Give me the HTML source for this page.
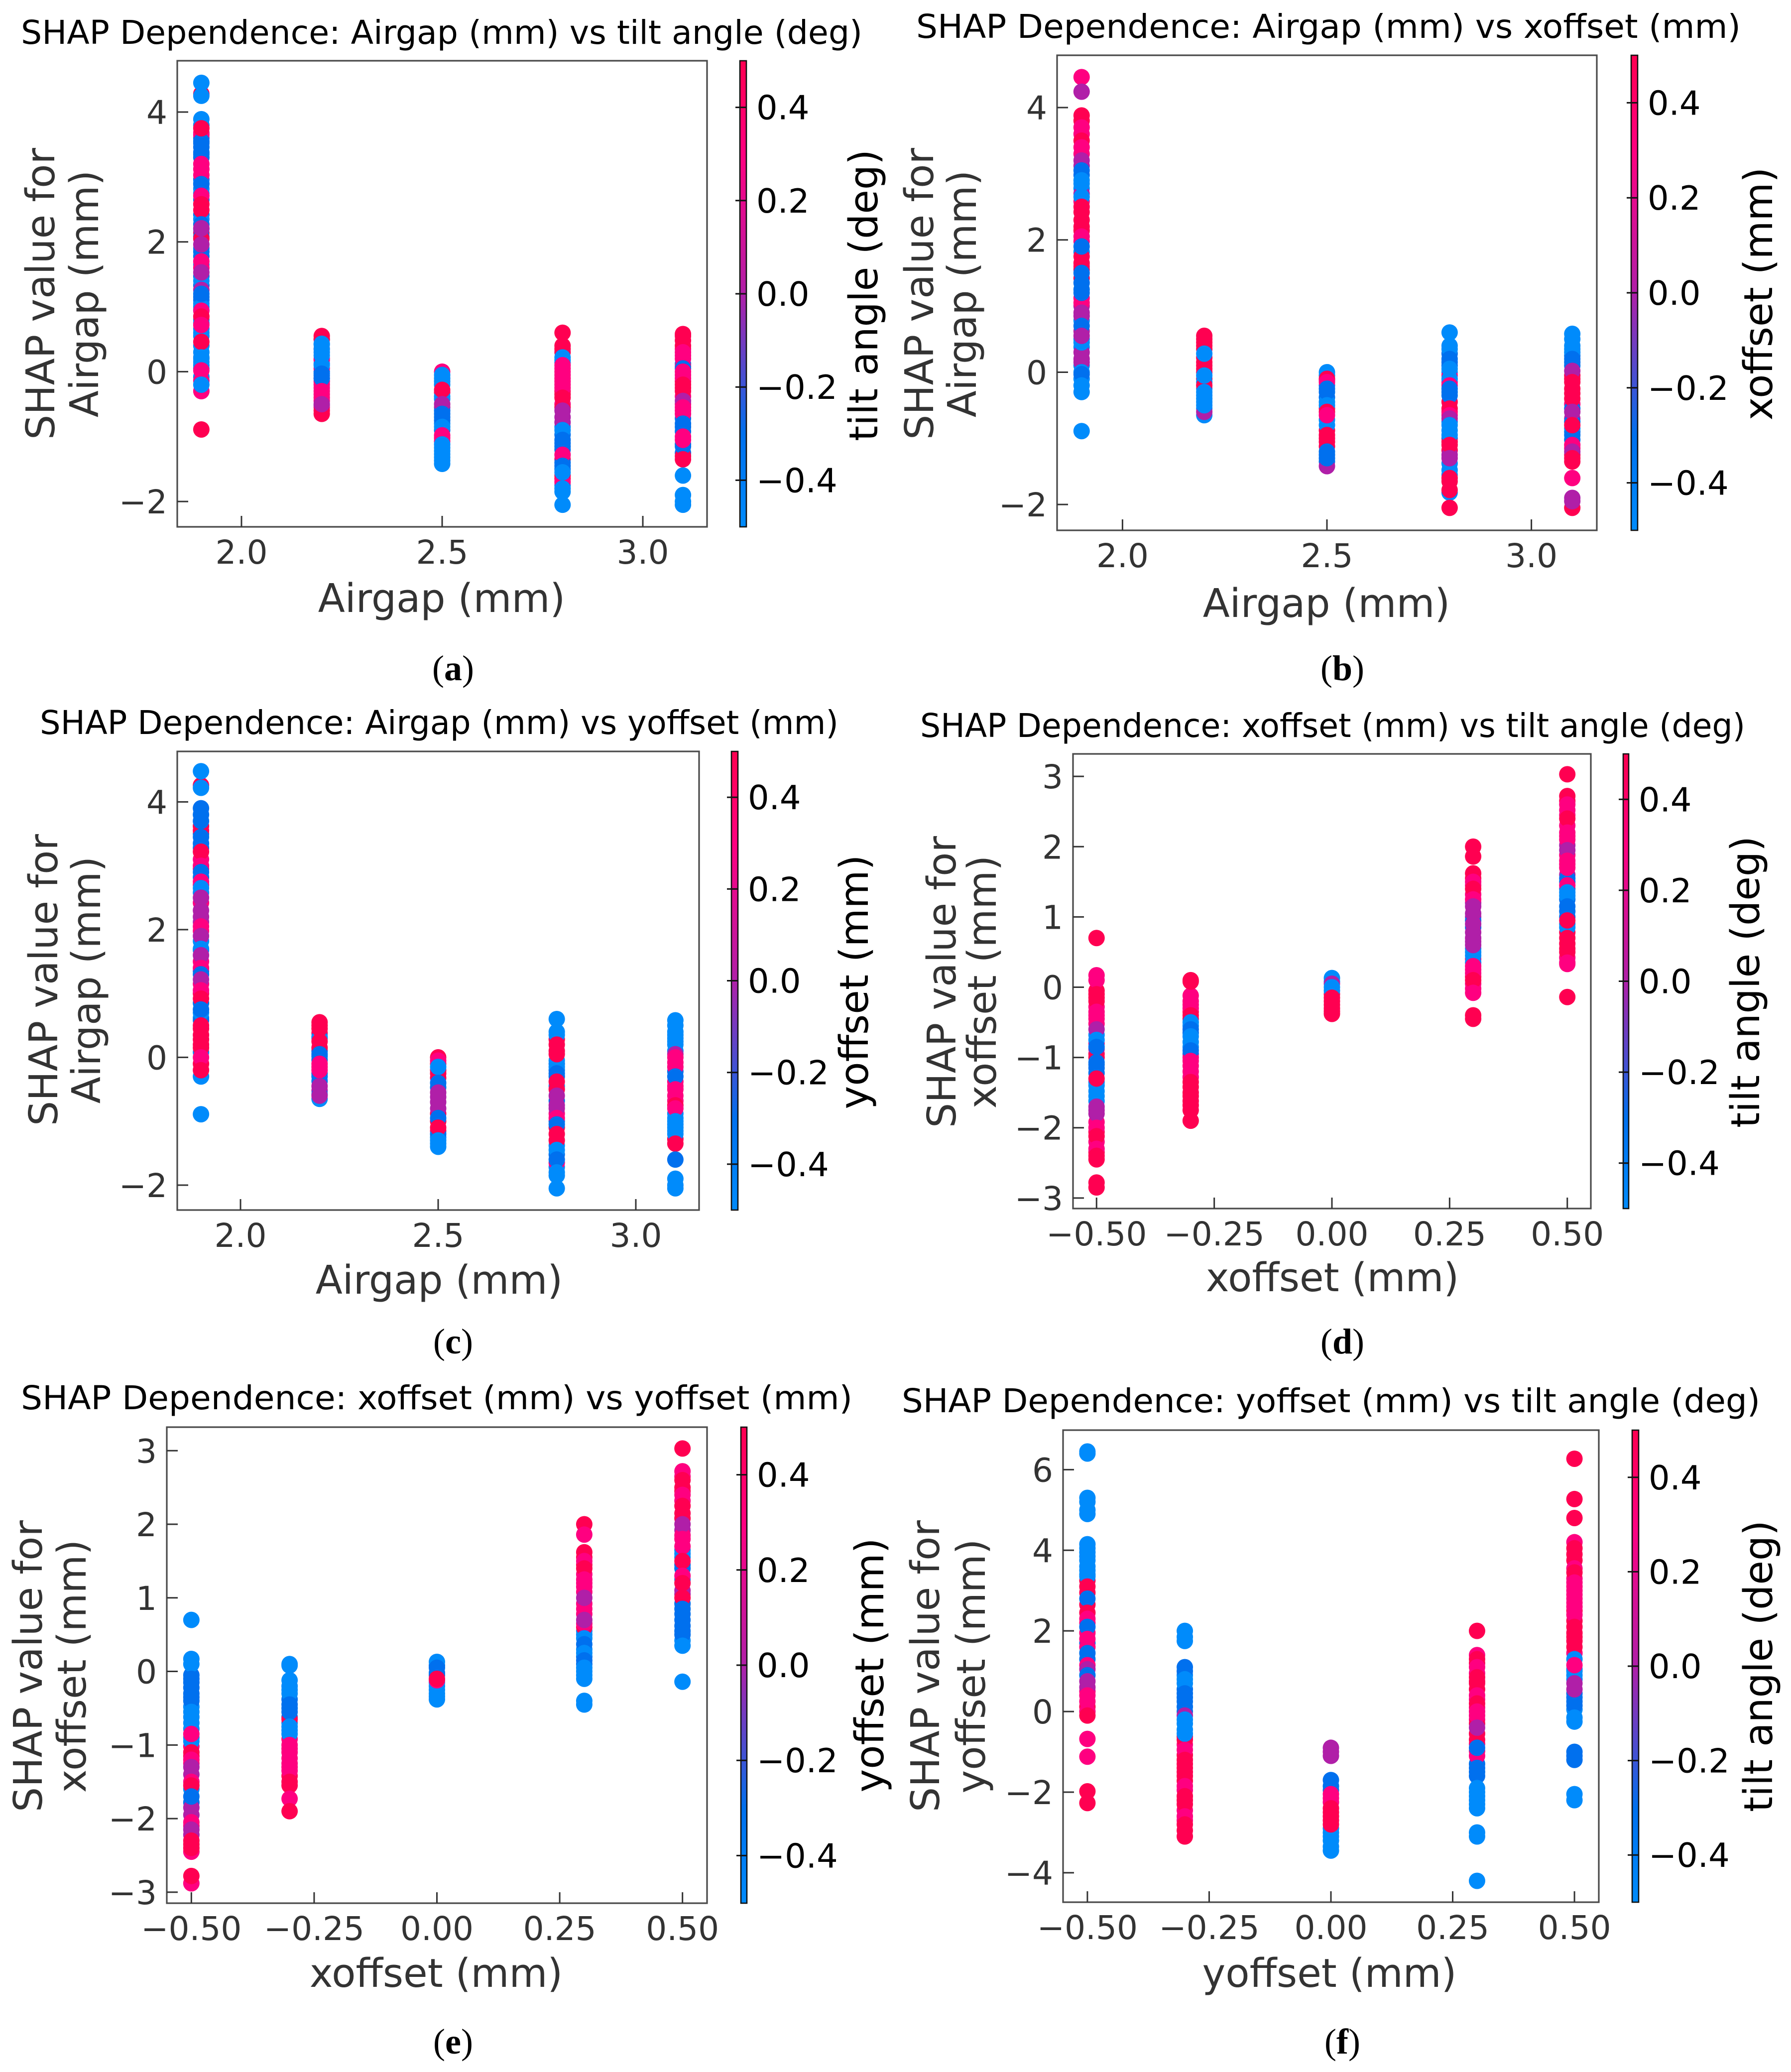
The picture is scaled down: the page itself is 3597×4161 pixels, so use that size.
<!DOCTYPE html>
<html lang="en">
<head>
<meta charset="utf-8">
<title>SHAP dependence plots</title>
<style>
html,body{margin:0;padding:0;background:#fff;}
svg{display:block;font-family:"DejaVu Sans",sans-serif;}
.title{font-size:66px;fill:#000;}
.axis-label{font-size:79px;fill:#333;text-anchor:middle;}
.cb-label{font-size:79px;fill:#000;text-anchor:middle;}
.caption{font-family:"Liberation Serif",serif;font-size:72px;fill:#000;text-anchor:middle;}
.caption tspan{font-weight:bold;}
.tick-text{font-size:66px;fill:#333;}
.cb-text{font-size:67px;fill:#000;}
</style>
</head>
<body>
<svg id="figure" xmlns="http://www.w3.org/2000/svg" width="3597" height="4161" viewBox="0 0 3597 4161">
<rect width="3597" height="4161" fill="#fff"/>

<g id="panel-a">
<text class="title" x="42" y="88" textLength="1690" lengthAdjust="spacingAndGlyphs">SHAP Dependence: Airgap (mm) vs tilt angle (deg)</text>
<text class="axis-label" transform="translate(109 590) rotate(-90)">SHAP value for</text>
<text class="axis-label" transform="translate(197 590) rotate(-90)">Airgap (mm)</text>
<text class="axis-label" x="887" y="1229">Airgap (mm)</text>
<text class="cb-label" transform="translate(1762 593) rotate(-90)">tilt angle (deg)</text>
<text class="caption" x="910" y="1366">(<tspan>a</tspan>)</text>
</g>

<g id="panel-b">
<text class="title" x="1840" y="76" textLength="1656" lengthAdjust="spacingAndGlyphs">SHAP Dependence: Airgap (mm) vs xoffset (mm)</text>
<text class="axis-label" transform="translate(1874 590) rotate(-90)">SHAP value for</text>
<text class="axis-label" transform="translate(1960 590) rotate(-90)">Airgap (mm)</text>
<text class="axis-label" x="2664" y="1239">Airgap (mm)</text>
<text class="cb-label" transform="translate(3559 590) rotate(-90)">xoffset (mm)</text>
<text class="caption" x="2696" y="1366">(<tspan>b</tspan>)</text>
</g>

<g id="panel-c">
<text class="title" x="80" y="1474" textLength="1604" lengthAdjust="spacingAndGlyphs">SHAP Dependence: Airgap (mm) vs yoffset (mm)</text>
<text class="axis-label" transform="translate(115 1968) rotate(-90)">SHAP value for</text>
<text class="axis-label" transform="translate(201 1968) rotate(-90)">Airgap (mm)</text>
<text class="axis-label" x="882" y="2598">Airgap (mm)</text>
<text class="cb-label" transform="translate(1743 1972) rotate(-90)">yoffset (mm)</text>
<text class="caption" x="910" y="2718">(<tspan>c</tspan>)</text>
</g>

<g id="panel-d">
<text class="title" x="1848" y="1480" textLength="1657" lengthAdjust="spacingAndGlyphs">SHAP Dependence: xoffset (mm) vs tilt angle (deg)</text>
<text class="axis-label" transform="translate(1919 1972) rotate(-90)">SHAP value for</text>
<text class="axis-label" transform="translate(2000 1972) rotate(-90)">xoffset (mm)</text>
<text class="axis-label" x="2676" y="2593">xoffset (mm)</text>
<text class="cb-label" transform="translate(3533 1972) rotate(-90)">tilt angle (deg)</text>
<text class="caption" x="2696" y="2718">(<tspan>d</tspan>)</text>
</g>

<g id="panel-e">
<text class="title" x="42" y="2830" textLength="1670" lengthAdjust="spacingAndGlyphs">SHAP Dependence: xoffset (mm) vs yoffset (mm)</text>
<text class="axis-label" transform="translate(84 3346) rotate(-90)">SHAP value for</text>
<text class="axis-label" transform="translate(172 3346) rotate(-90)">xoffset (mm)</text>
<text class="axis-label" x="876" y="3990">xoffset (mm)</text>
<text class="cb-label" transform="translate(1774 3344) rotate(-90)">yoffset (mm)</text>
<text class="caption" x="910" y="4124">(<tspan>e</tspan>)</text>
</g>

<g id="panel-f">
<text class="title" x="1811" y="2836" textLength="1724" lengthAdjust="spacingAndGlyphs">SHAP Dependence: yoffset (mm) vs tilt angle (deg)</text>
<text class="axis-label" transform="translate(1886 3346) rotate(-90)">SHAP value for</text>
<text class="axis-label" transform="translate(1978 3346) rotate(-90)">yoffset (mm)</text>
<text class="axis-label" x="2670" y="3990">yoffset (mm)</text>
<text class="cb-label" transform="translate(3559 3346) rotate(-90)">tilt angle (deg)</text>
<text class="caption" x="2696" y="4124">(<tspan>f</tspan>)</text>
</g>
</svg>

<script>
// Feature levels used as the colour value of each point
const B = -0.5, C = -0.3, P = 0, M = 0.3, R = 0.5;

// Shared categories and tick labels
const airgapCategories = [1.9, 2.2, 2.5, 2.8, 3.1];
const offsetCategories = [-0.5, -0.3, 0, 0.3, 0.5];
const airgapXTicks = [2.0, 2.5, 3.0];
const airgapXTickLabels = ['2.0', '2.5', '3.0'];
const offsetXTicks = [-0.5, -0.25, 0, 0.25, 0.5];
const offsetXTickLabels = ['\u22120.50', '\u22120.25', '0.00', '0.25', '0.50'];
const airgapYTicks = [4, 2, 0, -2];
const airgapYTickLabels = ['4', '2', '0', '\u22122'];
const xoffsetYTicks = [3, 2, 1, 0, -1, -2, -3];
const xoffsetYTickLabels = ['3', '2', '1', '0', '\u22121', '\u22122', '\u22123'];
const yoffsetYTicks = [6, 4, 2, 0, -2, -4];
const yoffsetYTickLabels = ['6', '4', '2', '0', '\u22122', '\u22124'];
const colorbarTicks = [0.4, 0.2, 0, -0.2, -0.4];
const colorbarTickLabels = ['0.4', '0.2', '0.0', '\u22120.2', '\u22120.4'];

// Axis domains
const airgapXDomain = [1.84, 3.16];
const airgapYDomain = [-2.39, 4.79];
const offsetXDomain = [-0.55, 0.55];
const xoffsetYDomain = [-3.15, 3.32];
const yoffsetYDomain = [-4.73, 6.98];
const colorDomain = [-0.5, 0.5];

// Panel a: [SHAP value, tilt angle]
const panelAColumn1 = [[3.8,B],[3.68,M],[3.6,C],[3.52,C],[3.38,C],[3.3,C],[3.12,M],[2.96,C],[2.82,B],[2.65,C],[2.42,C],[2.35,B],[2.14,R],[2.08,C],[1.9,B],[1.78,C],[1.65,B],[1.47,C],[1.33,C],[1.1,C],[1.05,B],[0.95,B],[0.8,B],[0.66,B],[0.55,B],[0.4,B],[0.3,B],[0.15,B],[0.05,C],[-0.08,B],[-0.14,M],[4.28,R],[3.65,M],[3.55,C],[3.35,C],[2.9,B],[2.75,B],[2.2,C],[2.05,R],[1.85,C],[1.6,M],[1.4,B],[1.15,C],[1.0,B],[0.75,B],[0.6,B],[0.2,B],[0.1,B],[-0.3,M],[-0.89,R],[4.45,B],[4.25,B],[3.89,B],[3.75,R],[3.46,C],[3.2,M],[3.03,M],[2.89,C],[2.71,M],[2.58,R],[2.49,R],[2.27,C],[2.21,P],[1.96,P],[1.7,M],[1.53,P],[1.26,P],[1.2,C],[0.94,M],[0.85,R],[0.72,M],[0.46,R],[0.22,B],[0.02,M],[-0.2,B]];
const panelAColumn2 = [[0.5,R],[0.42,B],[0.3,B],[0.18,M],[0.12,C],[0,C],[-0.06,C],[-0.15,M],[-0.25,M],[-0.35,M],[-0.45,M],[-0.52,P],[-0.55,M],[0.55,R],[0.5,R],[0.35,M],[0.2,M],[0.05,M],[-0.1,M],[-0.2,M],[-0.6,R],[-0.65,R],[0.43,B],[0.35,B],[0.25,B],[0.1,B],[-0.03,C],[-0.1,C],[-0.3,M],[-0.4,M],[-0.5,P]];
const panelAColumn3 = [[-0.1,B],[-0.2,B],[-0.32,R],[-0.42,B],[-0.55,P],[-0.6,C],[-0.7,C],[-0.8,B],[-0.9,C],[-1.07,M],[-1.17,B],[-1.27,B],[-1.37,B],[0,M],[-0.05,B],[-0.15,B],[-0.38,B],[-0.28,R],[-0.5,P],[-0.65,C],[-0.75,C],[-0.85,B],[-0.98,M],[-1.02,M],[-1.12,B],[-1.22,B],[-1.32,B],[-1.42,B]];
const panelAColumn4 = [[0.3,R],[0.14,B],[0.05,M],[-0.05,M],[-0.15,M],[-0.2,M],[-0.3,R],[-0.35,R],[-0.5,M],[-0.55,R],[-0.7,P],[-0.85,B],[-0.97,C],[-1.1,C],[-1.2,C],[-1.35,R],[-1.4,C],[-1.5,C],[-1.65,R],[-1.75,B],[0.6,R],[0.4,R],[0.35,R],[-1.6,R],[-1.7,M],[0.22,B],[0.18,B],[0.1,M],[0,M],[-0.1,M],[-0.25,M],[-0.4,R],[-0.6,P],[-0.78,P],[-0.9,B],[-1.05,C],[-1.15,C],[-1.28,M],[-1.45,C],[-1.55,B],[-1.8,B],[-1.85,B],[-2.05,B]];
const panelAColumn5 = [[0.48,R],[0.35,M],[0.25,M],[0.12,C],[0.08,M],[-0.05,M],[-0.15,R],[-0.25,R],[-0.38,M],[-0.5,M],[-0.6,M],[-0.72,C],[-0.92,C],[-1.12,C],[-1.25,C],[-1.3,R],[0.58,R],[0.55,R],[0.4,R],[0.3,M],[0.2,M],[0.05,C],[0,M],[-0.1,M],[-0.2,R],[-0.3,R],[-0.45,P],[-0.55,M],[-0.65,M],[-0.8,C],[-0.85,C],[-1.15,C],[-1,M],[-1.05,M],[-1.35,R],[-1.6,B],[-1.9,B],[-2,B],[-2.05,B]];

// Panel b: [SHAP value, xoffset]
const panelBColumn1 = [[3.8,R],[3.6,M],[3.3,M],[3.12,P],[2.98,C],[2.78,B],[2.58,M],[2.42,R],[2.14,R],[1.98,M],[1.82,B],[1.75,R],[1.6,M],[1.42,R],[1.35,C],[1.12,M],[1,P],[0.78,B],[0.62,P],[0.5,B],[0.38,B],[0.3,P],[0.1,B],[-0.1,B],[4.46,M],[4.24,P],[3.88,R],[3.7,M],[3.5,R],[3.4,M],[3.2,P],[2.7,P],[2.65,B],[3.05,C],[2.9,B],[2.85,B],[2.5,R],[2.3,R],[2.2,R],[2.05,M],[1.9,C],[1.65,R],[1.55,R],[1.5,C],[1.05,M],[1.25,C],[1.2,C],[0.9,P],[0.85,P],[0.45,B],[0.7,C],[0.55,P],[0.2,P],[0.15,P],[0,B],[-0.03,C],[-0.2,B],[-0.3,B],[-0.89,B]];
const panelBColumn2 = [[0.4,R],[0.35,R],[0.22,R],[0.1,R],[0,R],[-0.1,R],[-0.15,B],[-0.25,B],[-0.35,B],[-0.45,B],[-0.55,B],[0.55,R],[0.5,R],[0.45,R],[0.15,R],[0.05,R],[-0.2,R],[0.28,B],[-0.05,B],[-0.65,B],[-0.6,P],[-0.3,B],[-0.4,B],[-0.5,B]];
const panelBColumn3 = [[-0.12,M],[-0.2,C],[-0.38,C],[-0.45,B],[-0.55,R],[-0.72,B],[-0.88,R],[-1,R],[-1.12,R],[-1.25,C],[-1.35,C],[0,B],[-0.05,B],[-0.1,R],[-0.15,M],[-0.25,C],[-0.3,C],[-0.5,B],[-0.8,B],[-0.6,R],[-0.65,M],[-0.95,R],[-1.05,R],[-1.42,P],[-1.2,C],[-1.3,C]];
const panelBColumn4 = [[0.28,C],[0.1,C],[0,B],[-0.05,M],[-0.15,M],[-0.3,C],[-0.45,R],[-0.6,M],[-0.75,B],[-0.88,B],[-1,C],[-1.05,R],[-1.18,R],[-1.25,P],[-1.38,B],[-1.48,B],[0.6,B],[0.4,B],[0.35,B],[0.2,C],[0.15,C],[0.05,B],[-0.1,B],[-0.2,M],[-0.25,C],[-0.35,C],[-0.55,R],[-0.65,M],[-0.7,P],[-0.8,B],[-0.95,B],[-1.1,R],[-1.3,P],[-1.55,B],[-1.82,B],[-1.6,R],[-1.65,R],[-1.78,R],[-2.05,R]];
const panelBColumn5 = [[0.5,B],[0.35,B],[0.25,C],[0.15,C],[-0.05,R],[-0.1,R],[-0.32,R],[-0.48,M],[-0.7,P],[-0.75,C],[-0.9,C],[-1.02,C],[-1.15,M],[-1.25,R],[0.58,B],[0.4,B],[0.3,B],[0.2,C],[0.1,C],[0.02,P],[-0.55,C],[-0.15,R],[-0.25,R],[-0.4,R],[-0.6,P],[-0.85,B],[-0.95,C],[-0.8,R],[-1.1,M],[-1.2,P],[-1.3,R],[-1.35,R],[-1.6,M],[-2.05,R],[-1.9,P],[-1.95,P]];

// Panel c: [SHAP value, yoffset]
const panelCColumn1 = [[3.8,C],[3.62,R],[3.5,C],[3.28,C],[3.1,M],[2.95,M],[2.82,C],[2.7,M],[2.58,B],[2.42,M],[2.12,P],[1.98,M],[1.82,B],[1.68,C],[1.5,M],[1.35,C],[1.15,M],[1,R],[0.85,C],[0.62,B],[0.58,C],[0.35,R],[0.28,R],[0.08,B],[-0.1,R],[4.26,R],[3.55,R],[4.48,B],[4.22,B],[3.9,C],[3.7,C],[3.45,C],[3.35,C],[3.22,R],[3,M],[2.9,C],[2.75,M],[2.65,B],[2.5,P],[2.3,P],[2.2,P],[2.05,M],[1.9,P],[1.7,B],[1.6,P],[1.4,M],[1.3,C],[1.22,P],[1.05,M],[0.92,R],[0.7,B],[0.75,C],[0.45,R],[0.5,R],[0.2,R],[0.15,R],[-0.3,B],[0,M],[-0.2,R],[-0.89,B]];
const panelCColumn2 = [[0.38,R],[0.32,C],[0.1,C],[0.02,C],[-0.04,C],[-0.15,M],[-0.25,C],[-0.37,C],[-0.52,P],[-0.58,C],[0.3,B],[-0.65,B],[0.55,R],[0.5,R],[0.45,R],[0.25,R],[0.15,R],[0.05,C],[-0.1,M],[-0.3,C],[-0.2,M],[-0.45,P],[-0.6,P]];
const panelCColumn3 = [[-0.1,R],[-0.2,R],[-0.32,R],[-0.47,C],[-0.62,P],[-0.88,R],[-1,R],[-1.15,R],[-1.25,B],[-1.35,B],[0,R],[-0.05,M],[-0.25,R],[-0.15,B],[-0.4,C],[-0.55,P],[-0.7,P],[-0.8,P],[-0.95,C],[-1.2,C],[-1.1,R],[-1.3,B],[-1.4,B]];
const panelCColumn4 = [[0.28,R],[-0.1,C],[-0.2,C],[-0.3,C],[-0.45,B],[-0.5,R],[-0.68,C],[-0.88,M],[-1,C],[-1.1,R],[-1.38,B],[-1.52,C],[-1.72,B],[0.6,B],[0.4,B],[0.35,B],[-1.65,M],[-0.05,B],[-0.15,B],[0.2,R],[0.1,R],[0.05,R],[-0.25,C],[-0.38,R],[-0.6,P],[-0.75,P],[-0.8,P],[-0.95,M],[-1.05,C],[-1.2,R],[-1.3,R],[-1.45,B],[-1.6,C],[-1.8,B],[-1.85,B],[-2.05,B]];
const panelCColumn5 = [[0.5,B],[0.35,B],[0.25,B],[0.1,B],[-0.08,M],[-0.22,C],[-0.38,M],[-0.45,M],[-0.68,M],[-0.88,B],[-0.95,B],[-1.05,B],[-1.15,B],[-1.28,R],[0.58,B],[0.4,B],[0.3,B],[0.2,B],[-0.15,M],[0.05,P],[0,M],[-0.3,C],[-0.5,M],[-0.6,M],[-0.75,R],[-0.8,M],[-1,B],[-1.1,B],[-1.2,B],[-1.35,R],[-1.6,C],[-1.9,B],[-2,B],[-2.05,B]];

// Panel d: [SHAP value, tilt angle]
const panelDColumn1 = [[-0.05,R],[-0.15,R],[-0.28,M],[-0.4,M],[-0.52,M],[-0.68,B],[-0.8,M],[-0.95,R],[-1.1,C],[-1.22,C],[-1.35,B],[-1.48,B],[-1.62,B],[-1.75,P],[-1.92,M],[-2.06,R],[-2.2,M],[-2.35,R],[0.7,R],[0.17,M],[0.1,M],[-0.1,R],[-0.2,R],[-0.35,M],[-0.45,M],[-0.6,P],[-0.88,P],[-1,R],[-0.75,B],[-0.85,C],[-1.07,C],[-1.15,C],[-1.4,B],[-1.3,R],[-1.55,B],[-1.7,P],[-1.8,P],[-2,M],[-2.12,R],[-2.3,M],[-2.4,R],[-2.45,R],[-2.78,R],[-2.85,R]];
const panelDColumn2 = [[-0.12,M],[-0.25,M],[-0.35,R],[-0.45,R],[-0.55,B],[-0.65,C],[-0.78,B],[-0.95,C],[-1,M],[-1.12,M],[-1.28,M],[-1.42,R],[-1.62,R],[-1.68,R],[0.1,R],[0.08,R],[-0.2,M],[-0.3,M],[-0.4,R],[-0.5,B],[-0.6,C],[-0.7,B],[-0.85,B],[-0.9,C],[-1.05,M],[-1.2,M],[-1.35,R],[-1.5,R],[-1.55,R],[-1.75,R],[-1.9,R]];
const panelDColumn3 = [[0.08,B],[-0.1,R],[-0.34,R],[0.13,B],[0.05,P],[0,B],[-0.05,B],[-0.15,R],[-0.2,R],[-0.25,R],[-0.3,R],[-0.38,R]];
const panelDColumn4 = [[1.62,R],[1.45,M],[1.32,M],[1.2,P],[1,P],[0.85,C],[0.78,P],[0.65,P],[0.55,B],[0.4,M],[0.35,B],[0.25,M],[0.15,R],[0.05,M],[-0.02,M],[2,R],[1.86,R],[1.55,R],[1.5,M],[1.4,R],[1.25,M],[0.95,C],[1.15,P],[1.05,P],[0.45,B],[0.5,B],[0.9,P],[0.7,P],[0.6,P],[0.3,M],[0.2,M],[0.1,R],[-0.08,M],[-0.4,R],[-0.45,R]];
const panelDColumn5 = [[2.65,R],[2.52,M],[2.3,M],[2.15,M],[2.02,P],[1.88,M],[1.75,M],[1.5,C],[1.4,C],[1.25,C],[1.08,C],[0.9,B],[0.78,R],[0.62,R],[0.42,M],[3.03,R],[2.72,R],[2.6,M],[2.45,M],[2.4,R],[2.2,M],[2.1,M],[1.95,P],[1.6,P],[1.55,C],[1.8,M],[1.7,M],[1.45,M],[0.85,B],[1.35,B],[1.3,B],[1.15,C],[1,C],[0.95,R],[0.7,R],[0.55,R],[0.5,R],[0.35,M],[0.33,M],[-0.14,R]];

// Panel e: [SHAP value, yoffset]
const panelEColumn1 = [[-0.05,C],[-0.22,C],[-0.35,C],[-0.48,B],[-0.62,B],[-0.78,B],[-0.9,B],[-1.02,M],[-1.15,R],[-1.25,M],[-1.4,P],[-1.6,B],[-1.78,C],[-1.95,P],[-2.1,M],[-2.22,P],[-2.35,R],[0.7,B],[0.17,B],[0.1,B],[-0.1,C],[-0.15,C],[-0.3,C],[-0.4,C],[-0.55,B],[-0.7,B],[-0.95,B],[-0.85,M],[-1.1,R],[-1.2,M],[-1.3,P],[-1.5,M],[-1.55,R],[-1.85,P],[-1.7,C],[-2.05,M],[-2.15,P],[-2.45,M],[-2.3,R],[-2.4,R],[-2.88,M],[-2.78,R]];
const panelEColumn2 = [[-0.12,B],[-0.25,B],[-0.38,C],[-0.5,C],[-0.62,C],[-0.7,B],[-0.8,B],[-0.92,M],[-1.05,M],[-1.18,M],[-1.3,M],[-1.42,R],[0.1,B],[0.08,B],[-0.2,B],[-0.3,B],[-0.65,R],[-0.45,C],[-0.55,C],[-0.75,B],[-0.85,B],[-1,M],[-1.1,M],[-1.25,M],[-1.35,M],[-1.5,R],[-1.55,R],[-1.73,M],[-1.9,R]];
const panelEColumn3 = [[0.08,C],[-0.02,C],[-0.15,B],[-0.25,B],[-0.34,B],[0.13,B],[0.05,C],[-0.05,C],[-0.2,B],[-0.3,B],[-0.38,B],[-0.12,M],[-0.1,R]];
const panelEColumn4 = [[1.62,R],[1.45,R],[1.32,M],[1.2,M],[1.08,M],[0.92,M],[0.78,M],[0.55,B],[0.5,B],[0.3,B],[0.2,C],[0.1,C],[0,B],[-0.05,B],[2,R],[1.86,M],[1.55,R],[1.5,M],[1.4,R],[1.25,M],[1.15,M],[0.85,M],[1,P],[0.6,R],[0.65,M],[0.7,P],[0.45,B],[0.37,C],[0.25,B],[0.15,C],[0.05,B],[-0.1,B],[-0.4,B],[-0.45,B]];
const panelEColumn5 = [[2.65,M],[2.45,R],[2.32,M],[2.08,R],[1.92,P],[1.85,M],[1.65,B],[1.55,B],[1.4,C],[1.25,B],[1.05,P],[0.92,C],[0.78,C],[0.62,C],[0.42,B],[3.03,R],[2.72,M],[2.6,R],[2.5,R],[2.4,M],[2.25,R],[2.15,R],[2,P],[1.6,B],[1.8,M],[1.7,M],[1.45,C],[1.5,R],[1.1,P],[1.3,M],[1,R],[1.2,R],[0.85,C],[0.7,C],[0.55,C],[0.5,C],[0.35,B],[-0.14,B]];

// Panel f: [SHAP value, tilt angle]
const panelFColumn1 = [[3.95,B],[3.85,B],[3.5,B],[3.25,R],[2.95,R],[2.65,R],[2.2,M],[1.95,M],[1.7,C],[0.5,M],[0.12,R],[6.45,B],[6.4,B],[5.3,B],[5.2,B],[5,B],[4.9,B],[4.15,B],[4.05,B],[3.75,B],[3.6,B],[3.4,B],[3.35,B],[3.1,R],[2.8,C],[2.45,R],[2.3,M],[2.1,C],[1.8,M],[1.6,M],[1.45,C],[1.3,C],[1.15,M],[1.05,P],[0.9,C],[0.75,P],[0.6,P],[0.4,M],[0.25,M],[0,M],[-0.1,R],[-0.68,M],[-1.12,M],[-1.98,R],[-2.27,R]];
const panelFColumn2 = [[0.9,B],[0.55,C],[0.35,C],[0.12,C],[-0.3,B],[-0.62,R],[-0.82,M],[-1.08,R],[-1.3,R],[-1.5,R],[-1.72,R],[-1.95,M],[-2.2,R],[-2.45,M],[-2.7,M],[2,B],[1.85,B],[1.75,B],[1.1,C],[1,C],[0.8,B],[0.7,B],[0.45,C],[0.25,C],[0,C],[-0.1,P],[-0.7,R],[-0.45,B],[-0.55,B],[-0.2,B],[-0.95,M],[-1.2,R],[-1.4,R],[-1.6,R],[-1.85,M],[-2.1,R],[-2.3,R],[-2.6,M],[-2.8,R],[-2.95,R],[-3.1,R]];
const panelFColumn3 = [[-2.25,M],[-2.5,R],[-2.7,R],[-2.9,B],[-3.1,B],[-1.95,C],[-0.9,P],[-1,P],[-1.1,P],[-1.7,C],[-1.85,C],[-3,B],[-3.2,B],[-3.35,B],[-3.45,B],[-2.05,M],[-2.15,M],[-2.4,R],[-2.6,R],[-2.8,R]];
const panelFColumn4 = [[1.2,R],[0.95,M],[0.75,R],[0.3,M],[0.1,M],[-0.2,M],[-0.3,R],[-0.55,R],[-0.8,M],[-0.98,M],[-1.3,C],[-1.6,C],[-2,B],[-2.3,B],[2,R],[1.4,M],[1.3,R],[1.1,M],[0.85,R],[0.7,R],[0.55,R],[0.4,M],[0.2,R],[0,M],[-0.1,M],[-0.7,R],[-1.1,M],[-0.4,P],[-0.9,C],[-1.4,C],[-1.5,C],[-1.9,B],[-2.1,B],[-2.2,B],[-2.4,B],[-3,B],[-3.1,B],[-4.2,B]];
const panelFColumn5 = [[3.75,R],[3.3,M],[3.1,M],[2.9,M],[2.7,M],[2.5,R],[2.25,R],[1.95,R],[1.75,R],[1.45,M],[1.05,B],[0.8,B],[0.45,C],[0.25,C],[0.05,B],[6.27,R],[5.27,R],[4.8,R],[4.2,M],[4.05,R],[3.9,R],[3.55,M],[3.45,R],[3.2,M],[3,M],[2.8,M],[2.6,M],[2.4,M],[2.1,R],[1.85,R],[1.6,R],[1.3,B],[1,B],[0.9,B],[1.15,M],[0.15,C],[0.35,C],[0.7,P],[0.55,P],[-0.15,B],[-0.25,B],[-1,C],[-1.1,C],[-1.2,C],[-2.05,B],[-2.2,B]];

// Layout (page geometry, not data)
const panels = [
  {id:'panel-a', box:[356,1420,122,1058], bar:[1486,1499], xD:airgapXDomain, yD:airgapYDomain, cats:airgapCategories, xT:airgapXTicks, xL:airgapXTickLabels, yT:airgapYTicks, yL:airgapYTickLabels, cols:[panelAColumn1,panelAColumn2,panelAColumn3,panelAColumn4,panelAColumn5]},
  {id:'panel-b', box:[2123,3207,111,1065], bar:[3276,3289], xD:airgapXDomain, yD:airgapYDomain, cats:airgapCategories, xT:airgapXTicks, xL:airgapXTickLabels, yT:airgapYTicks, yL:airgapYTickLabels, cols:[panelBColumn1,panelBColumn2,panelBColumn3,panelBColumn4,panelBColumn5]},
  {id:'panel-c', box:[356,1404,1509,2430], bar:[1469,1482], xD:airgapXDomain, yD:airgapYDomain, cats:airgapCategories, xT:airgapXTicks, xL:airgapXTickLabels, yT:airgapYTicks, yL:airgapYTickLabels, cols:[panelCColumn1,panelCColumn2,panelCColumn3,panelCColumn4,panelCColumn5]},
  {id:'panel-d', box:[2155,3195,1514,2427], bar:[3260,3271], xD:offsetXDomain, yD:xoffsetYDomain, cats:offsetCategories, xT:offsetXTicks, xL:offsetXTickLabels, yT:xoffsetYTicks, yL:xoffsetYTickLabels, cols:[panelDColumn1,panelDColumn2,panelDColumn3,panelDColumn4,panelDColumn5]},
  {id:'panel-e', box:[335,1420,2866,3822], bar:[1488,1500], xD:offsetXDomain, yD:xoffsetYDomain, cats:offsetCategories, xT:offsetXTicks, xL:offsetXTickLabels, yT:xoffsetYTicks, yL:xoffsetYTickLabels, cols:[panelEColumn1,panelEColumn2,panelEColumn3,panelEColumn4,panelEColumn5]},
  {id:'panel-f', box:[2135,3211,2872,3820], bar:[3278,3291], xD:offsetXDomain, yD:yoffsetYDomain, cats:offsetCategories, xT:offsetXTicks, xL:offsetXTickLabels, yT:yoffsetYTicks, yL:yoffsetYTickLabels, cols:[panelFColumn1,panelFColumn2,panelFColumn3,panelFColumn4,panelFColumn5]}
];

const NS = 'http://www.w3.org/2000/svg';
const colorStops = [[0,[0,139,251]],[0.2,[0,112,238]],[0.5,[176,31,168]],[0.8,[255,0,128]],[1,[255,0,81]]];

function scale(domain, r0, r1) {
  return function (v) { return r0 + (v - domain[0]) / (domain[1] - domain[0]) * (r1 - r0); };
}
function colorFor(value) {
  const t = Math.max(0, Math.min(1, (value - colorDomain[0]) / (colorDomain[1] - colorDomain[0])));
  for (let i = 1; i < colorStops.length; i++) {
    if (t <= colorStops[i][0]) {
      const a = colorStops[i - 1], b = colorStops[i];
      const f = (t - a[0]) / (b[0] - a[0]);
      return 'rgb(' + a[1].map(function (c, k) { return Math.round(c + (b[1][k] - c) * f); }).join(',') + ')';
    }
  }
  return 'rgb(255,0,81)';
}

function drawPoint(parent, cx, cy, color) {
  const el = document.createElementNS(NS, 'circle');
  
  
  el.setAttribute('cx', cx);
  el.setAttribute('cy', cy);
  el.setAttribute('r', 16.5);
  el.setAttribute('fill', color);
  parent.appendChild(el);
}
function drawFrame(parent, b) {
  const el = document.createElementNS(NS, 'rect');
  
  
  el.setAttribute('x', b[0]);
  el.setAttribute('y', b[2]);
  el.setAttribute('width', b[1] - b[0]);
  el.setAttribute('height', b[3] - b[2]);
  el.setAttribute('fill', 'none');
  el.setAttribute('stroke', '#4a4a4a');
  el.setAttribute('stroke-width', 3.2);
  parent.appendChild(el);
}
function drawXTick(parent, x, bottom, label) {
  const el = document.createElementNS(NS, 'line');
  
  
  el.setAttribute('x1', x);
  el.setAttribute('x2', x);
  el.setAttribute('y1', bottom);
  el.setAttribute('y2', bottom - 22);
  el.setAttribute('stroke', '#333');
  el.setAttribute('stroke-width', 3);
  parent.appendChild(el);
  const t = document.createElementNS(NS, 'text');
  
  
  t.setAttribute('class', 'tick-text');
  t.setAttribute('x', x);
  t.setAttribute('y', bottom + 74);
  t.setAttribute('text-anchor', 'middle');
  t.textContent = label;
  parent.appendChild(t);
}
function drawYTick(parent, y, left, label) {
  const el = document.createElementNS(NS, 'line');
  
  
  el.setAttribute('x1', left);
  el.setAttribute('x2', left + 22);
  el.setAttribute('y1', y);
  el.setAttribute('y2', y);
  el.setAttribute('stroke', '#333');
  el.setAttribute('stroke-width', 3);
  parent.appendChild(el);
  const t = document.createElementNS(NS, 'text');
  
  
  t.setAttribute('class', 'tick-text');
  t.setAttribute('x', left - 20);
  t.setAttribute('y', y + 24);
  t.setAttribute('text-anchor', 'end');
  t.textContent = label;
  parent.appendChild(t);
}
function drawColorbar(parent, id, bar, top, bottom) {
  const defs = document.createElementNS(NS, 'defs');
  const grad = document.createElementNS(NS, 'linearGradient');
  grad.setAttribute('id', id + '-gradient');
  grad.setAttribute('x1', 0);
  grad.setAttribute('x2', 0);
  grad.setAttribute('y1', 1);
  grad.setAttribute('y2', 0);
  colorStops.forEach(function (s) {
    const stop = document.createElementNS(NS, 'stop');
    stop.setAttribute('offset', s[0]);
    stop.setAttribute('stop-color', 'rgb(' + s[1].join(',') + ')');
    grad.appendChild(stop);
  });
  defs.appendChild(grad);
  parent.appendChild(defs);
  const el = document.createElementNS(NS, 'rect');
  
  
  el.setAttribute('x', bar[0]);
  el.setAttribute('y', top);
  el.setAttribute('width', bar[1] - bar[0]);
  el.setAttribute('height', bottom - top);
  el.setAttribute('fill', 'url(#' + id + '-gradient)');
  el.setAttribute('stroke', '#111');
  el.setAttribute('stroke-width', 2.6);
  parent.appendChild(el);
  const cScale = scale(colorDomain, bottom, top);
  colorbarTicks.forEach(function (v, i) {
    const tick = document.createElementNS(NS, 'line');
    
    
    tick.setAttribute('x1', bar[0] - 9);
    tick.setAttribute('x2', bar[1] - 1);
    tick.setAttribute('y1', cScale(v));
    tick.setAttribute('y2', cScale(v));
    tick.setAttribute('stroke', '#111');
    tick.setAttribute('stroke-width', 3);
    parent.appendChild(tick);
    const t = document.createElementNS(NS, 'text');
    
    
    t.setAttribute('class', 'cb-text');
    t.setAttribute('x', bar[1] + 20);
    t.setAttribute('y', cScale(v) + 24);
    t.textContent = colorbarTickLabels[i];
    parent.appendChild(t);
  });
}

panels.forEach(function (p) {
  const g = document.getElementById(p.id);
  const b = p.box;
  const xS = scale(p.xD, b[0], b[1]);
  const yS = scale(p.yD, b[3], b[2]);
  p.cols.forEach(function (col, i) {
    col.forEach(function (pt) {
      drawPoint(g, xS(p.cats[i]), yS(pt[0]), colorFor(pt[1]));
    });
  });
  drawFrame(g, b);
  p.xT.forEach(function (v, i) { drawXTick(g, xS(v), b[3], p.xL[i]); });
  p.yT.forEach(function (v, i) { drawYTick(g, yS(v), b[0], p.yL[i]); });
  drawColorbar(g, p.id, p.bar, b[2], b[3]);
});
</script>
</body>
</html>
